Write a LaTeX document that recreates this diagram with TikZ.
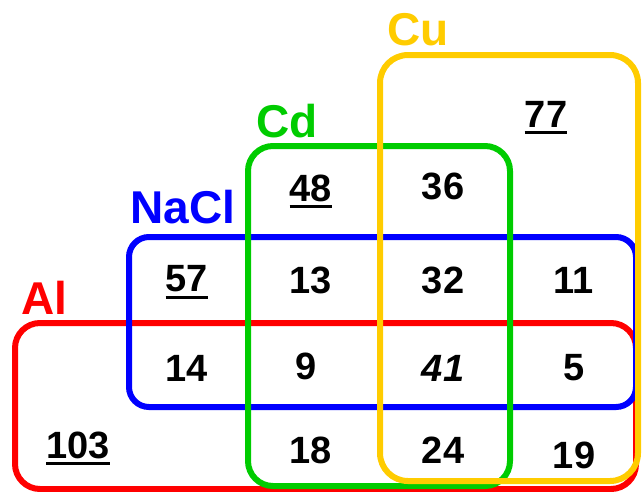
\documentclass[tikz,border=0pt]{standalone}
\usepackage{fontspec}
\setmainfont{Liberation Sans}
\definecolor{alred}{RGB}{255,0,0}
\definecolor{naclblue}{RGB}{0,0,255}
\definecolor{cdgreen}{RGB}{0,204,0}
\definecolor{cuyellow}{RGB}{255,204,0}
\tikzset{
  setbox/.style={line width=6pt, rounded corners=#1},
  setlabel/.style={inner sep=0pt, font=\fontsize{46}{50}\selectfont\bfseries},
  num/.style={inner sep=0pt, font=\fontsize{38}{42}\selectfont\bfseries},
  ul/.style={line width=2.8pt, black}
}
\begin{document}
\begin{tikzpicture}[x=1pt, y=-1pt]
\useasboundingbox (0,0) rectangle (642,491);
% sets (red bottom, yellow top)
\draw[setbox=25pt, alred] (15,323) rectangle (636,489);
\draw[setbox=20pt, naclblue] (129,237) rectangle (636,407);
\draw[setbox=25pt, cdgreen] (248,146) rectangle (510,486);
\draw[setbox=28pt, cuyellow] (380,55) rectangle (638,481);
% set labels
\node[setlabel, text=alred] (lAl) at (44,298) {Al};
\node[setlabel, text=naclblue] (lNaCl) at (183,207) {NaCl};
\node[setlabel, text=cdgreen] (lCd) at (287,121) {Cd};
\node[setlabel, text=cuyellow] (lCu) at (418,30) {Cu};
% numbers
\node[num] (n77) at (546,114) {77};
\node[num] (n48) at (311,188) {48};
\node[num] (n36) at (443,186) {36};
\node[num] (n57) at (187,279) {57};
\node[num] (n13) at (311,280) {13};
\node[num] (n32) at (443,280) {32};
\node[num] (n11) at (574,280) {11};
\node[num] (n14) at (187,368) {14};
\node[num] (n9) at (306,366) {9};
\node[num] (n41) at (443,368) {\itshape 41};
\node[num] (n5) at (574,368) {5};
\node[num] (n103) at (78,445) {103};
\node[num] (n18) at (311,450) {18};
\node[num] (n24) at (443,450) {24};
\node[num] (n19) at (574,455) {19};
% underlines
\foreach \n in {n77,n48,n57,n103}{
  \draw[ul] ([yshift=-5pt]\n.south west) -- ([yshift=-5pt]\n.south east);
}
\end{tikzpicture}
\end{document}
